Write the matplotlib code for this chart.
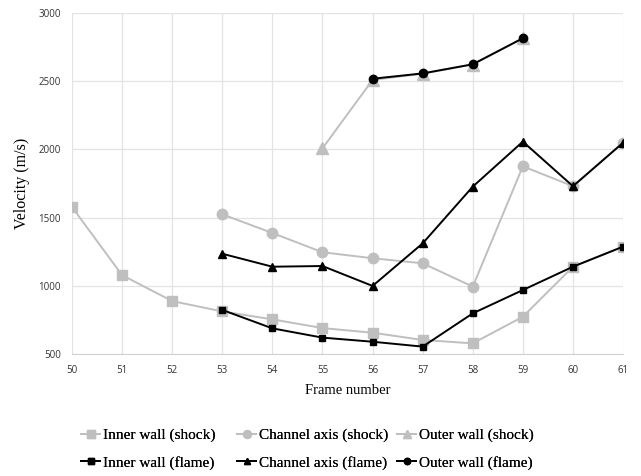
import matplotlib.pyplot as plt
import numpy as np

frames = [50, 51, 52, 53, 54, 55, 56, 57, 58, 59, 60, 61]

# shock front velocities (m/s), None = no value
inner_shock = [1578, 1078, 888, 812, 754, 690, 656, 603, 578, 773, 1140, 1287]
axis_shock = [None, None, None, 1524, 1387, 1246, 1202, 1165, 994, 1876, 1730, 2050]
outer_shock = [None, None, None, None, None, 2008, 2509, 2555, 2622, 2815, None, None]

# flame front velocities (m/s)
inner_flame = [None, None, None, 823, 688, 620, 590, 554, 798, 969, 1140, 1287]
axis_flame = [None, None, None, 1235, 1140, 1145, 999, 1311, 1727, 2057, 1730, 2049]
outer_flame = [None, None, None, None, None, None, 2518, 2557, 2624, 2815, None, None]

GREY = '#BFBFBF'
plt.rcParams['font.family'] = ['Liberation Serif', 'DejaVu Serif']


def arr(v):
    return np.array([np.nan if x is None else x for x in v], dtype=float)


fig = plt.figure(figsize=(6.41, 4.76), dpi=100)
ax = fig.add_axes([0.1123, 0.2563, 0.8597, 0.7164])

series = [
    (inner_shock, 'Inner wall (shock)', GREY, 's', 7),
    (inner_flame, 'Inner wall (flame)', 'black', 's', 5),
    (axis_shock, 'Channel axis (shock)', GREY, 'o', 7.5),
    (axis_flame, 'Channel axis (flame)', 'black', '^', 6),
    (outer_shock, 'Outer wall (shock)', GREY, '^', 8),
    (outer_flame, 'Outer wall (flame)', 'black', 'o', 6),
]
handles = []
for vals, lab, col, mk, ms in series:
    h, = ax.plot(frames, arr(vals), color=col, marker=mk, markersize=ms,
                 linewidth=1.4, label=lab, zorder=3 if col == 'black' else 2)
    handles.append(h)

ax.set_xlim(50, 61)
ax.set_ylim(500, 3000)
ax.set_xticks(frames)
ax.set_yticks([500, 1000, 1500, 2000, 2500, 3000])
ax.grid(True, color='#E3E3E3', linewidth=0.9, zorder=0)
ax.set_axisbelow(True)
for s in ['top', 'right', 'left']:
    ax.spines[s].set_visible(False)
ax.spines['bottom'].set_color('#D0D0D0')
ax.tick_params(length=0, labelsize=7, pad=8)
for t in ax.get_xticklabels() + ax.get_yticklabels():
    t.set_family(['Open Sans', 'DejaVu Sans'])
    t.set_color('#333333')

ax.set_xlabel('Frame number', fontsize=10.5, labelpad=6)
ax.set_ylabel('Velocity (m/s)', fontsize=11.5, labelpad=6)

# one legend per column, like the Excel layout
col_x = [81 / 641, 237 / 641, 397 / 641]
for i, x0 in enumerate(col_x):
    leg = fig.legend(handles=handles[2 * i:2 * i + 2], loc='center left',
                     bbox_to_anchor=(x0, 0.0567), frameon=False, fontsize=11,
                     handlelength=1.25, handletextpad=0.2, labelspacing=0.88,
                     borderpad=0, borderaxespad=0, markerscale=0.75)
    fig.add_artist(leg)

fig.savefig('out.png', dpi=100)
